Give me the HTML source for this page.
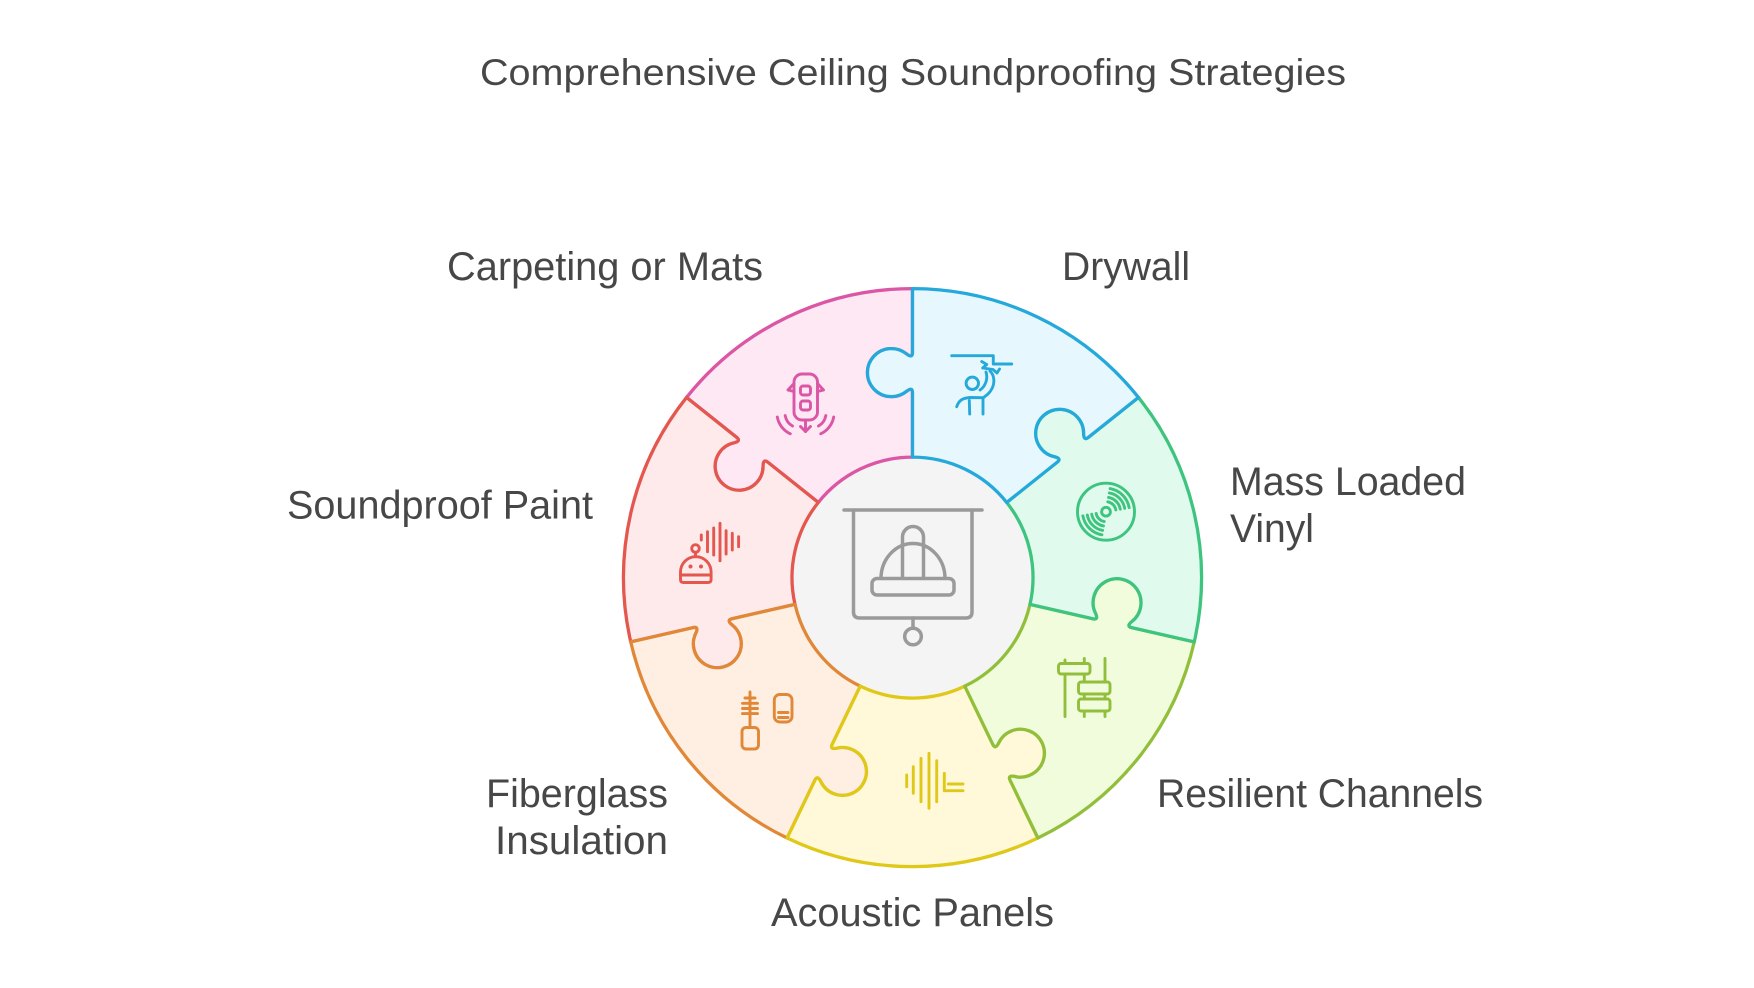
<!DOCTYPE html>
<html>
<head>
<meta charset="utf-8">
<style>
html,body{margin:0;padding:0;background:#ffffff;}
svg{display:block;}
text{font-family:"Liberation Sans",Arial,sans-serif;fill:#474747;}
</style>
</head>
<body>
<svg width="1754" height="988" viewBox="0 0 1754 988" xmlns="http://www.w3.org/2000/svg">
<defs>
<path id="seg" d="M0,-120.5 L0,-185 Q0,-191 -6,-186.3 A24,24 0 1 1 -6,-223.7 Q0,-219 0,-225 L0,-289 A289,289 0 0 1 225.95,-180.19 L175.91,-140.29 Q171.22,-136.54 171.15,-144.17 A24,24 0 1 0 141.91,-120.85 Q149.33,-119.09 144.64,-115.35 L94.21,-75.13 A120.5,120.5 0 0 0 0,-120.5 Z"/>
</defs>
<rect width="1754" height="988" fill="#ffffff"/>

<text x="480" y="85" font-size="37" textLength="866" lengthAdjust="spacingAndGlyphs">Comprehensive Ceiling Soundproofing Strategies</text>

<!-- center fill -->
<circle cx="912.5" cy="577.6" r="120.5" fill="#f4f4f4"/>

<g transform="translate(912.5 577.6)" stroke-width="3.3" stroke-linejoin="round">
  <use href="#seg" transform="rotate(308.5714)" fill="#fde8f4" stroke="#db56a5"/>
  <use href="#seg" transform="rotate(257.1429)" fill="#feeaea" stroke="#e3574f"/>
  <use href="#seg" transform="rotate(205.7143)" fill="#feefe2" stroke="#e08838"/>
  <use href="#seg" transform="rotate(154.2857)" fill="#fff8d9" stroke="#dfc817"/>
  <use href="#seg" transform="rotate(102.8571)" fill="#f1fcdc" stroke="#92bf3b"/>
  <use href="#seg" transform="rotate(51.4286)" fill="#e0fbee" stroke="#3ec47e"/>
  <use href="#seg" transform="rotate(0)" fill="#e6f7fd" stroke="#25a9da"/>
</g>

<!-- center icon -->
<g fill="none" stroke="#9a9a9a" stroke-width="3.5" stroke-linecap="round" stroke-linejoin="round">
  <path d="M844,510 L982,510"/>
  <path d="M853.5,510 L853.5,612 Q853.5,618 859.5,618 L966,618 Q972,618 972,612 L972,510"/>
  <path d="M913,618 L913,628"/>
  <circle cx="913" cy="636.5" r="8.3"/>
  <path d="M881,578.5 A32,35 0 0 1 945,578.5"/>
  <path d="M902.5,578.5 L902.5,537 A10.5,10.5 0 0 1 923.5,537 L923.5,578.5"/>
  <rect x="872" y="578.5" width="82" height="16.5" rx="5" fill="#f4f4f4"/>
</g>

<!-- pink icon: carpeting -->
<g fill="none" stroke="#db56a5" stroke-width="2.9" stroke-linecap="round" stroke-linejoin="round">
  <rect x="794" y="374" width="23.5" height="46" rx="8"/>
  <path d="M794,383.5 L788,390 L794,391.5"/>
  <path d="M817.5,383.5 L823.5,390 L817.5,391.5"/>
  <rect x="800.5" y="386" width="10" height="9" rx="2.5"/>
  <rect x="800.5" y="401" width="10" height="9" rx="2.5"/>
  <path d="M805.5,421 L805.5,431.5"/>
  <path d="M800.5,426.5 L805.5,431.5 L810.5,426.5"/>
  <path d="M777.3,417 A23,23 0 0 0 790.3,433.8"/>
  <path d="M785.2,415.6 A15,15 0 0 0 792.5,426"/>
  <path d="M833.7,417 A23,23 0 0 1 820.7,433.8"/>
  <path d="M825.8,415.6 A15,15 0 0 1 818.5,426"/>
</g>

<!-- blue icon: drywall -->
<g fill="none" stroke="#25a9da" stroke-width="2.9" stroke-linecap="round" stroke-linejoin="round">
  <path d="M951.7,355.7 L993.3,355.7 L993.3,364 L1011.7,364"/>
  <path d="M981.7,361.5 L986.7,364.5 L982.7,368 L993,369.5 L997,373 L999.5,369"/>
  <circle cx="972.3" cy="383.3" r="6.2"/>
  <path d="M990,371 C995,376 996,386 988,394 L983,398 L983,414"/>
  <path d="M986,372 C988,378 986,386 980,390"/>
  <path d="M956.7,406.7 C959,400 963,398 970,397.5 L983,397.7"/>
  <path d="M969.3,400.5 L969.7,414"/>
</g>

<!-- green icon: vinyl disc -->
<g fill="none" stroke="#3ec47e" stroke-width="2.9" stroke-linecap="round">
  <circle cx="1106" cy="511.7" r="28.5"/>
  <circle cx="1106" cy="511.7" r="4.4"/>
  <path d="M1107.74,501.85 A10,10 0 0 1 1115.85,509.96"/>
  <path d="M1108.52,497.42 A14.5,14.5 0 0 1 1120.28,509.18"/>
  <path d="M1109.30,492.99 A19,19 0 0 1 1124.71,508.40"/>
  <path d="M1110.08,488.56 A23.5,23.5 0 0 1 1129.14,507.62"/>
  <path d="M1104.26,521.55 A10,10 0 0 1 1096.15,513.44"/>
  <path d="M1103.48,525.98 A14.5,14.5 0 0 1 1091.72,514.22"/>
  <path d="M1102.70,530.41 A19,19 0 0 1 1087.29,515.00"/>
  <path d="M1101.92,534.84 A23.5,23.5 0 0 1 1082.86,515.78"/>
</g>

<!-- lime icon: channels -->
<g fill="none" stroke="#92bf3b" stroke-width="2.9" stroke-linecap="round" stroke-linejoin="round">
  <path d="M1065,660 L1065,716.5"/>
  <path d="M1084.3,658.5 L1084.3,716.5"/>
  <path d="M1105,658.5 L1105,716.5"/>
  <rect x="1058.5" y="663.5" width="31.5" height="10.5" rx="2.5" fill="#f1fcdc"/>
  <rect x="1078.5" y="682" width="31.5" height="12" rx="2.5" fill="#f1fcdc"/>
  <rect x="1078.5" y="699" width="31.5" height="12" rx="2.5" fill="#f1fcdc"/>
</g>

<!-- yellow icon: acoustic panels -->
<g fill="none" stroke="#dfc817" stroke-width="2.9" stroke-linecap="round" stroke-linejoin="round">
  <path d="M906.7,775 L906.7,786.7"/>
  <path d="M913.3,766.7 L913.3,793.3"/>
  <path d="M921,758.3 L921,801.7"/>
  <path d="M929,753.3 L929,808.3"/>
  <path d="M936.7,760.7 L936.7,801.7"/>
  <path d="M944.3,773.3 L944.3,790.7 L963,790.7"/>
  <path d="M948.3,784 L963,784"/>
</g>

<!-- orange icon: fiberglass -->
<g fill="none" stroke="#e08838" stroke-width="2.9" stroke-linecap="round" stroke-linejoin="round">
  <path d="M750,692 L750,727"/>
  <path d="M745,698 L755,698"/>
  <path d="M742.5,703.3 L757.5,703.3"/>
  <path d="M742.5,708.5 L757.5,708.5"/>
  <path d="M742.5,713.6 L757.5,713.6"/>
  <rect x="742" y="727.5" width="16.5" height="21.5" rx="4"/>
  <rect x="774.3" y="694.5" width="17.7" height="27.5" rx="5.5"/>
  <path d="M778.5,712.5 L788,712.5"/>
  <path d="M778.5,717.5 L788,717.5"/>
</g>

<!-- red icon: soundproof paint -->
<g fill="none" stroke="#e3574f" stroke-width="2.9" stroke-linecap="round" stroke-linejoin="round">
  <path d="M680.5,579.5 L680.5,572 A15.3,15.3 0 0 1 711.1,572 L711.1,579.5 Q711.1,582.5 708,582.5 L683.5,582.5 Q680.5,582.5 680.5,579.5 Z"/>
  <path d="M680.5,575 L711.1,575"/>
  <circle cx="695.5" cy="548.5" r="3.8"/>
  <path d="M695.5,552.3 L695.5,556.7"/>
  <path d="M701.3,535 L701.3,540"/>
  <path d="M707.5,531.7 L707.5,551.7"/>
  <path d="M713.7,528 L713.7,555"/>
  <path d="M720,523.3 L720,560.7"/>
  <path d="M726.1,530.7 L726.1,554"/>
  <path d="M732.3,533.3 L732.3,550"/>
  <path d="M738.6,536.7 L738.6,546.7"/>
</g>
<g fill="#e3574f">
  <circle cx="690.5" cy="566.5" r="2"/>
  <circle cx="701" cy="566.5" r="2"/>
</g>

<!-- labels -->
<g font-size="40">
  <text x="447" y="280" textLength="316" lengthAdjust="spacingAndGlyphs">Carpeting or Mats</text>
  <text x="1062" y="280" textLength="128" lengthAdjust="spacingAndGlyphs">Drywall</text>
  <text x="1230" y="495" textLength="236" lengthAdjust="spacingAndGlyphs">Mass Loaded</text>
  <text x="1230" y="542" textLength="84" lengthAdjust="spacingAndGlyphs">Vinyl</text>
  <text x="287" y="518.5" textLength="306" lengthAdjust="spacingAndGlyphs">Soundproof Paint</text>
  <text x="1157" y="807" textLength="326" lengthAdjust="spacingAndGlyphs">Resilient Channels</text>
  <text x="486" y="807" textLength="182" lengthAdjust="spacingAndGlyphs">Fiberglass</text>
  <text x="495" y="854" textLength="173" lengthAdjust="spacingAndGlyphs">Insulation</text>
  <text x="771" y="926" textLength="283" lengthAdjust="spacingAndGlyphs">Acoustic Panels</text>
</g>
</svg>
</body>
</html>
